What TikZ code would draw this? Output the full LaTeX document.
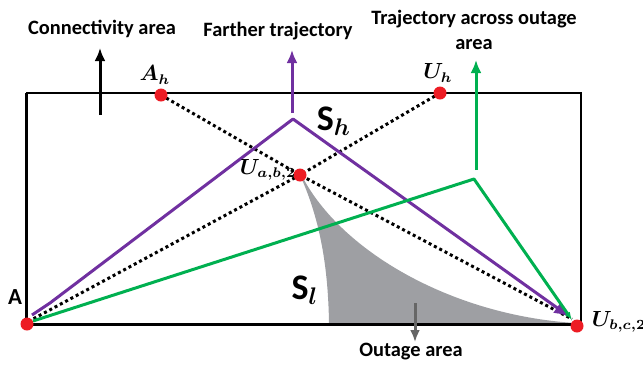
\documentclass[tikz,border=0pt]{standalone}
\usepackage{amsmath,amssymb}
\usepackage{fontspec}
\setmainfont{Carlito}
\usepackage{tikz}
\usetikzlibrary{arrows.meta}

\definecolor{trajpurple}{RGB}{112,48,160}
\definecolor{trajgreen}{RGB}{0,176,80}
\definecolor{dotred}{RGB}{237,28,36}
\definecolor{outgray}{RGB}{158,159,163}

\tikzset{
  lbl/.style={font=\bfseries\fontsize{10.2}{12.5}\selectfont,align=center},
  mlbl/.style={font=\fontsize{10.5}{12}\selectfont},
  slbl/.style={font=\bfseries\fontsize{18}{20}\selectfont},
  dotline/.style={line width=1.5pt,dash pattern=on 1.5pt off 1.5pt},
  traj/.style={line width=1.5pt,line join=round},
  upar/.style={line width=1.5pt,-{Latex[length=6.5pt,width=5.5pt]}},
}

\begin{document}
\begin{tikzpicture}[x=0.5pt,y=-0.5pt]
    \useasboundingbox (0,0) rectangle (643,366);
    % points
    \coordinate (A) at (27,324);
    \coordinate (Ubc) at (577,326);
    \coordinate (Ah) at (161,95);
    \coordinate (Uh) at (440,93);
    \coordinate (Uab) at (300,175);
    \coordinate (pbend) at (50,303);
    \coordinate (papex) at (293,119);
    \coordinate (gbend) at (474,179);
    % outage region S_l
    \fill[outgray] (Uab) .. controls (318,215) and (328,260) .. (329,323)
      -- (575,323) .. controls (450,315) and (340,250) .. (302,176) -- cycle;
    \draw[line width=1pt] (26,93) -- (581,93) -- (581,324);
    \draw[line width=1.5pt] (26,93) -- (26,324) -- (581,324);
    % dotted lines of sight
    \draw[dotline] (Ah) -- (Uab) -- ([shift={(-5,-7)}]Ubc);
    \draw[dotline] (Uh) -- (Uab) -- ([shift={(6,-5)}]A);
    % trajectories
    \draw[traj,trajpurple,-{Latex[length=8pt,width=6.5pt]}] ([shift={(5,-9)}]A) -- (pbend) -- (papex) -- ([shift={(-7,-9)}]Ubc);
    \draw[traj,trajgreen,-{Latex[length=4pt,width=3pt]}] ([shift={(6,-3)}]A) -- (gbend) -- ([shift={(-5,-6)}]Ubc);
    % arrows up and down
    \draw[upar] (100,115) -- (100,48);
    \draw[upar,trajpurple] (292,113) -- (292,50);
    \draw[upar,trajgreen] (476,170) -- (476,60);
    \draw[line width=1.5pt,black!60,-{Latex[length=6pt,width=5pt]}] (415,303) -- (415,342);
    \foreach \p in {A,Ubc,Ah,Uh,Uab} \fill[dotred] (\p) circle (6.5);
    % labels
    \node[lbl] at (102,29) {Connectivity area};
    \node[lbl] at (278,31) {Farther trajectory};
    \node[lbl] at (474,30) {Trajectory across outage\\area};
    \node[lbl] at (411,352) {Outage area};
    \node[lbl,font=\bfseries\fontsize{11.5}{13}\selectfont] at (15,297) {A};
    \node[mlbl] at (155,75) {$\boldsymbol{A_h}$};
    \node[mlbl] at (438,73) {$\boldsymbol{U_h}$};
    \node[mlbl] at (268,170) {$\boldsymbol{U_{a,b,2}}$};
    \node[mlbl] at (619,322) {$\boldsymbol{U_{b,c,2}}$};
    \node[slbl] at (334,121) {S$_{\boldsymbol{h}}$};
    \node[slbl] at (305,290) {S$_{\boldsymbol{l}}$};
  \end{tikzpicture}
\end{document}
